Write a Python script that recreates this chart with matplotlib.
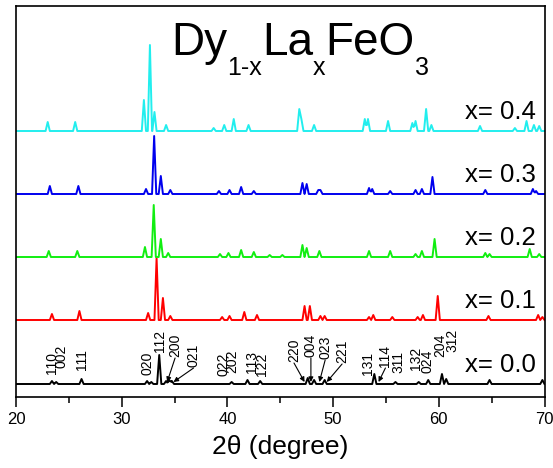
import numpy as np
import matplotlib.pyplot as plt
from matplotlib.ticker import MultipleLocator

plt.rcParams['font.family'] = ['Liberation Sans', 'DejaVu Sans']

# XRD patterns of Dy(1-x)La(x)FeO3, peak (2theta, height)
compositions = ['x= 0.0', 'x= 0.1', 'x= 0.2', 'x= 0.3', 'x= 0.4']
colors       = ['#000000', '#ff0000', '#11ee11', '#0000ee', '#22eeee']
offsets      = [13, 77, 140, 203, 266]

peaks_00 = [(23.4, 3), (23.8, 2), (26.2, 5), (32.4, 3), (32.8, 2), (33.55, 29),
            (34.2, 3), (34.5, 4), (34.75, 3), (40.4, 2), (41.9, 4), (43.1, 3),
            (47.6, 6), (48.2, 4), (49.2, 4), (53.9, 10), (55.9, 2), (58.1, 2),
            (59.0, 4), (60.3, 10), (60.7, 5), (64.8, 4), (69.8, 4)]
peaks_01 = [(23.4, 6), (26.0, 9), (32.5, 7), (33.3, 62), (33.9, 22), (34.6, 4),
            (39.5, 3), (40.2, 4), (41.6, 8), (42.8, 5), (47.3, 14), (47.8, 14),
            (48.8, 4), (49.2, 4), (53.4, 3), (53.8, 5), (55.6, 3), (58.0, 3),
            (58.5, 5), (59.9, 24), (64.7, 4), (69.4, 5), (69.8, 3)]
peaks_02 = [(23.1, 6), (25.8, 6), (32.2, 10), (33.03, 52), (33.7, 18), (34.4, 4),
            (39.3, 3), (40.1, 4), (41.3, 7), (42.5, 5), (44.0, 2), (45.2, 2),
            (47.1, 12), (47.5, 9), (48.7, 6), (53.4, 6), (55.4, 6), (57.8, 3),
            (58.4, 6), (59.6, 18), (64.4, 4), (64.8, 3), (68.6, 8), (69.5, 3)]
peaks_03 = [(23.2, 8), (25.9, 8), (32.3, 5), (33.07, 58), (33.7, 18), (34.6, 4),
            (39.2, 3), (40.2, 4), (41.3, 7), (42.5, 3), (47.1, 11), (47.5, 10),
            (48.6, 4), (48.8, 4), (53.4, 6), (53.7, 5), (55.4, 3), (57.8, 4),
            (58.4, 5), (59.4, 17), (64.4, 4), (68.9, 5), (69.2, 3)]
peaks_04 = [(23.0, 9), (25.6, 9), (32.1, 31), (32.67, 86), (33.1, 19), (34.2, 6),
            (38.7, 3), (39.7, 6), (40.6, 12), (42.0, 6), (46.8, 22), (47.0, 12),
            (48.2, 6), (53.0, 12), (53.3, 12), (55.2, 10), (57.5, 8), (57.8, 10),
            (58.8, 22), (59.3, 6), (63.9, 5), (67.2, 3), (68.3, 10), (69.0, 6),
            (69.5, 5)]
all_peaks = [peaks_00, peaks_01, peaks_02, peaks_03, peaks_04]

# Miller indices on the x=0.0 pattern
hkl_labels = ['110', '002', '111', '020', '112', '200', '021', '022', '202', '113', '122',
              '220', '004', '023', '221', '131', '114', '311', '132', '024', '204', '312']
hkl_pos    = [23.4, 24.3, 26.2, 32.4, 33.65, 35.05, 36.8, 39.6, 40.45, 42.3, 43.3,
              46.3, 47.9, 49.25, 50.85, 53.3, 54.95, 56.2, 57.8, 58.9, 60.1, 61.3]
hkl_lift   = [10, 16, 14, 9, 32, 27, 17, 8, 11, 11, 8,
              22, 27, 25, 21, 9, 17, 11, 14, 11, 27, 32]
arrow_tips = {'200': 34.3, '021': 34.9, '220': 47.3, '004': 47.9,
              '023': 48.7, '221': 49.4, '114': 54.3}

W, H = 553, 468
fig = plt.figure(figsize=(W / 100, H / 100), dpi=100)
ax = fig.add_axes([16 / W, 1 - 397 / H, 528.5 / W, 391 / H])

half_w = 0.2
for peaks, base, col, lab in zip(all_peaks, offsets, colors, compositions):
  grid = [20.0, 70.0]
  for p, h in peaks:
    grid += [p - half_w, p, p + half_w]
  tt = np.unique(np.clip(grid, 20, 70))
  yy = np.zeros_like(tt)
  for p, h in peaks:
    yy += np.interp(tt, [p - half_w, p, p + half_w], [0, h, 0], left=0, right=0)
  ax.plot(tt, yy + base, color=col, lw=1.4, solid_joinstyle='round')
  ax.text(69.15, base + 12, lab, fontsize=18.5, ha='right', va='baseline')

base0 = offsets[0]
for lab, x, lift in zip(hkl_labels, hkl_pos, hkl_lift):
  ax.text(x, base0 + lift, lab, rotation=90, ha='center', va='bottom', fontsize=10)
  if lab in arrow_tips:
    ax.annotate('', xy=(arrow_tips[lab], base0 + 2), xytext=(x, base0 + lift - 1),
                arrowprops=dict(arrowstyle='-|>', color='k', lw=0.8,
                                mutation_scale=7, shrinkA=0, shrinkB=0))

ax.set_xlim(20, 70)
ax.set_ylim(0, 391)
ax.set_yticks([])
ax.xaxis.set_major_locator(MultipleLocator(10))
ax.xaxis.set_minor_locator(MultipleLocator(5))
ax.tick_params(axis='x', which='major', direction='out', length=7, width=1.1, labelsize=12)
ax.tick_params(axis='x', which='minor', direction='out', length=4, width=1.1)
for s in ax.spines.values():
  s.set_linewidth(1.2)
ax.set_xlabel('2θ (degree)', fontsize=19, labelpad=6)

# formula title built piece by piece (big text + low subscripts)
renderer = fig.canvas.get_renderer()
pieces = [('Dy', 33, 0), ('1-x', 18, 20), ('La', 33, 0), ('x', 18, 20),
          ('FeO', 33, 0), ('3', 18, 20)]
x_px = 171
for s, size, drop in pieces:
  t = fig.text(x_px / W, 1 - (55 + drop) / H, s, fontsize=size, ha='left', va='baseline')
  bb = t.get_window_extent(renderer)
  x_px = bb.x1

fig.savefig('out.png', dpi=100)
